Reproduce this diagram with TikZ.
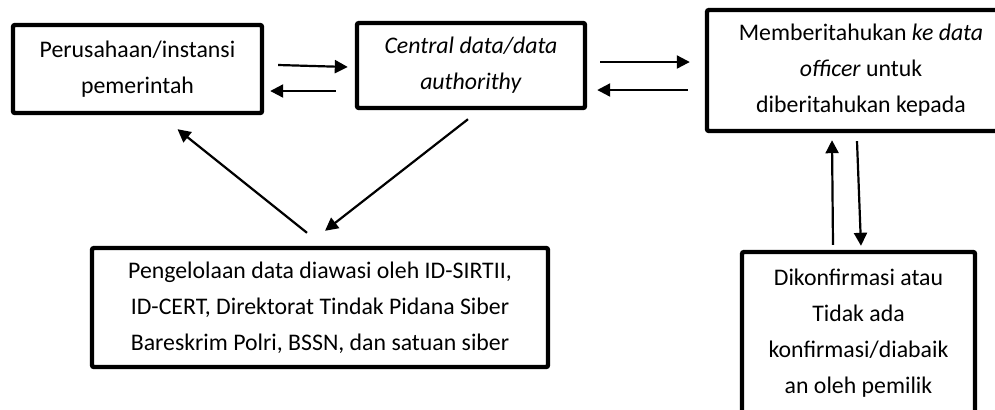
\documentclass[tikz,border=0pt]{standalone}
\usepackage{fontspec}
\setmainfont{Carlito}
\usepackage{tikz}
\usetikzlibrary{calc}
\usetikzlibrary{positioning}
\usetikzlibrary{arrows.meta}
\def\thickness{2.2pt}
\tikzset{
box/.style 2 args={
	draw, line width=\thickness, rounded corners=1pt,
	minimum width=#1, minimum height=#2,
	align=center, inner sep=2pt,
	font=\fontsize{11.9}{18}\selectfont
},
flow/.style={
	-{Triangle[length=6.5pt,width=6.5pt]},
	line width=1.1pt
},
}
\begin{document}
\begin{tikzpicture}[x=0.5pt,y=-0.5pt]
\clip (0,0) rectangle (995,409);
%Place the nodes
\node[box={124.5pt}{44pt}] (instansi) at (137.5,69) {Perusahaan/instansi\\pemerintah};
\node[box={114pt}{42.5pt}] (central) at (471,65.5) {\textit{Central data/data}\\\textit{authorithy}};
\node[box={154pt}{60.5pt}] (officer) at (861,70.5) {Memberitahukan \textit{ke data}\\\textit{officer} untuk\\diberitahukan kepada};
\node[box={228pt}{59.5pt}] (pengawas) at (320,307.5) {Pengelolaan data diawasi oleh ID-SIRTII,\\ID-CERT, Direktorat Tindak Pidana Siber\\Bareskrim Polri, BSSN, dan satuan siber};
\node[box={116.5pt}{81.5pt}] (pemilik) at (858.5,333.5) {Dikonfirmasi atau\\Tidak ada\\konfirmasi/diabaik\\an oleh pemilik};

%
\draw[flow] ($(instansi.east)+(14,-4)$) to ($(central.west)+(-7,1.5)$);
\draw[flow] ($(central.west)+(-19,25.5)$) to ($(instansi.east)+(6,22)$);

%
\draw[flow] ($(central.east)+(13,-3.5)$) to ($(officer.west)+(-15,-8.5)$);
\draw[flow] ($(officer.west)+(-17,19.5)$) to ($(central.east)+(10,24.5)$);

%
\draw[flow] ($(pengawas.north)+(-13,-13)$) to ($(instansi.south)+(40,14)$);
\draw[flow] ($(central.south)+(-3,9)$) to ($(pengawas.north)+(5,-15)$);

%
\draw[flow] ($(pemilik.north)+(-25.5,-5)$) to ($(officer.south)+(-29,7)$);
\draw[flow] ($(officer.south)+(-4,8)$) to ($(pemilik.north)+(2.5,-4)$);

\end{tikzpicture}
\end{document}
